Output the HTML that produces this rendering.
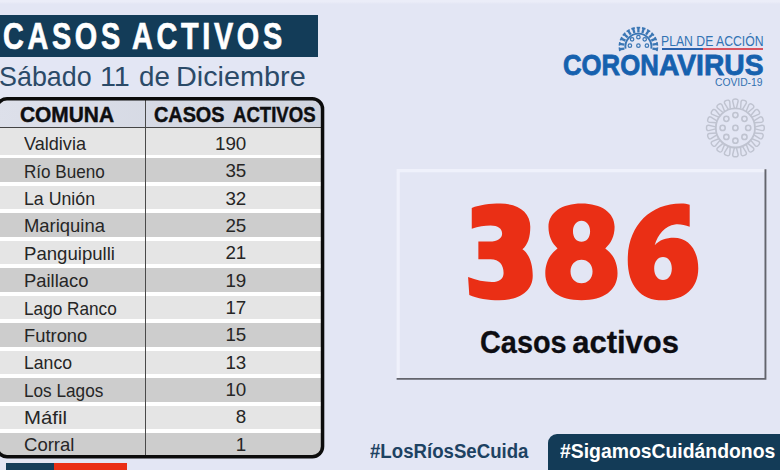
<!DOCTYPE html>
<html>
<head>
<meta charset="utf-8">
<style>
html,body{margin:0;padding:0;}
body{width:780px;height:470px;overflow:hidden;background:#e3e6f4;font-family:"Liberation Sans",sans-serif;position:relative;}
.abs{position:absolute;white-space:nowrap;line-height:1;}
.sx{transform-origin:0 0;}
#banner{left:0;top:15px;width:318.2px;height:42.2px;background:#133c58;}
#title{left:2.5px;top:18.5px;font-size:36px;font-weight:bold;color:#fff;letter-spacing:4.6px;word-spacing:-3px;transform:scaleX(0.8);-webkit-text-stroke:0.7px #fff;}
.sub{top:62.5px;font-size:28px;color:#2b4a68;}
#tblbg{left:-4px;top:98px;width:327px;height:359.5px;border-radius:11px;background:#fff;}
#tblbd{left:0;top:0;}
#clip{left:-4px;top:100px;width:326px;height:356.5px;overflow:hidden;border-radius:0 10px 10px 10px;}
#hdr{left:0;top:0;width:100%;height:27px;background:linear-gradient(90deg,#dde0ea,#cfd3de);}
#hline{left:0;top:27px;width:100%;height:1.3px;background:#444;}
.row{left:0;width:100%;}
.l{background:#e5e5e5;}
.d{background:#cdcdcd;}
#vline{left:148.6px;top:0;width:1.2px;height:100%;background:#4a4a4a;}
.h{font-weight:bold;font-size:22px;color:#0e0e10;-webkit-text-stroke:0.45px #0e0e10;}
.n{font-size:18.2px;color:#262626;}
.v{font-size:18.8px;color:#262626;}
#plan{left:661.2px;top:34px;font-size:14px;color:#3273b3;transform:scaleX(0.873);}
#uline1{left:662px;top:47.8px;width:41px;height:2.1px;background:#2a62ac;}
#uline2{left:703px;top:47.8px;width:60px;height:2.1px;background:#d8525f;}
.corona{top:49.6px;font-size:29.8px;font-weight:bold;color:#1661ae;-webkit-text-stroke:0.8px #1661ae;}
#covid{left:715px;top:77.6px;font-size:10px;color:#2f70b0;transform:scaleX(1.03);}
#box{left:0;top:0;}
.lbl{top:327.2px;font-size:31px;font-weight:bold;color:#0d0d12;-webkit-text-stroke:0.3px #0d0d12;}
#ht1{left:369.5px;top:441.2px;font-size:20px;font-weight:bold;color:#1d4262;transform:scaleX(0.932);}
#htbox{left:547.6px;top:434.2px;width:240px;height:40px;background:#133b57;border-radius:9px 0 0 0;}
#ht2{left:560.3px;top:441px;font-size:20.5px;font-weight:bold;color:#fff;transform:scaleX(0.945);}
#fb{left:5.5px;top:463px;width:48.5px;height:7px;background:#153e5b;}
#fr{left:54px;top:463px;width:73px;height:7px;background:#ea2f15;}
</style>
</head>
<body>
<div class="abs" style="left:0;top:0;width:780px;height:4px;background:linear-gradient(180deg,#ebedf8 0%,#ebedf8 45%,#e3e6f4 100%)"></div>
<div id="banner" class="abs"></div>
<div id="title" class="abs sx m">CASOS ACTIVOS</div>
<div id="sub1" class="abs sx sub m" style="left:-0.9px;transform:scaleX(0.96)">Sábado</div><div id="sub2" class="abs sx sub m" style="left:99.9px;transform:scaleX(1.027)">11</div><div id="sub3" class="abs sx sub m" style="left:138.5px;transform:scaleX(0.99)">de</div><div id="sub4" class="abs sx sub m" style="left:175.95px;transform:scaleX(1.029)">Diciembre</div>

<div id="tblbg" class="abs"></div>
<div id="clip" class="abs">
  <div id="hdr" class="abs"></div>
  <div id="hline" class="abs"></div>
  <div class="abs row l" style="top:28.20px;height:26.6px"></div>
  <div class="abs row d" style="top:58.48px;height:23.2px"></div>
  <div class="abs row l" style="top:85.96px;height:23.2px"></div>
  <div class="abs row d" style="top:113.44px;height:23.2px"></div>
  <div class="abs row l" style="top:140.92px;height:23.2px"></div>
  <div class="abs row d" style="top:168.40px;height:23.2px"></div>
  <div class="abs row l" style="top:195.88px;height:23.2px"></div>
  <div class="abs row d" style="top:223.36px;height:23.2px"></div>
  <div class="abs row l" style="top:250.84px;height:23.2px"></div>
  <div class="abs row d" style="top:278.32px;height:23.2px"></div>
  <div class="abs row l" style="top:305.80px;height:23.2px"></div>
  <div class="abs row d" style="top:333.28px;height:23.2px"></div>
  <div id="vline" class="abs"></div>
</div>
<svg id="tblbd" class="abs" width="780" height="470" viewBox="0 0 780 470"><rect x="-3.25" y="98.85" width="325.8" height="357.9" rx="10.25" ry="10.25" fill="none" stroke="#0c0c0c" stroke-width="3.5"/></svg>
<div id="h1" class="abs sx h m" style="left:20.3px;top:103.8px;transform:scaleX(0.95)">COMUNA</div>
<div id="h2a" class="abs sx h m" style="left:153.7px;top:103.8px;transform:scaleX(0.901)">CASOS</div><div id="h2b" class="abs sx h m" style="left:232.95px;top:103.8px;transform:scaleX(0.845)">ACTIVOS</div>
<div id="n0" class="abs sx n m" style="left:23.71px;top:135.39px;transform:scaleX(0.994)">Valdivia</div>
<div id="v0" class="abs v m" style="right:533.7px;top:134.89px">190</div>
<div id="n1" class="abs sx n m" style="left:23.78px;top:162.75px;transform:scaleX(0.940)">Río Bueno</div>
<div id="v1" class="abs v m" style="right:533.7px;top:162.25px">35</div>
<div id="n2" class="abs sx n m" style="left:23.73px;top:190.11px;transform:scaleX(0.976)">La Unión</div>
<div id="v2" class="abs v m" style="right:533.7px;top:189.61px">32</div>
<div id="n3" class="abs sx n m" style="left:23.68px;top:217.47px;transform:scaleX(1.013)">Mariquina</div>
<div id="v3" class="abs v m" style="right:533.7px;top:216.97px">25</div>
<div id="n4" class="abs sx n m" style="left:23.67px;top:244.83px;transform:scaleX(1.022)">Panguipulli</div>
<div id="v4" class="abs v m" style="right:533.7px;top:244.33px">21</div>
<div id="n5" class="abs sx n m" style="left:23.68px;top:272.19px;transform:scaleX(1.012)">Paillaco</div>
<div id="v5" class="abs v m" style="right:533.7px;top:271.69px">19</div>
<div id="n6" class="abs sx n m" style="left:23.77px;top:299.55px;transform:scaleX(0.946)">Lago Ranco</div>
<div id="v6" class="abs v m" style="right:533.7px;top:299.05px">17</div>
<div id="n7" class="abs sx n m" style="left:23.69px;top:326.91px;transform:scaleX(1.009)">Futrono</div>
<div id="v7" class="abs v m" style="right:533.7px;top:326.41px">15</div>
<div id="n8" class="abs sx n m" style="left:23.74px;top:354.27px;transform:scaleX(0.969)">Lanco</div>
<div id="v8" class="abs v m" style="right:533.7px;top:353.77px">13</div>
<div id="n9" class="abs sx n m" style="left:23.77px;top:381.63px;transform:scaleX(0.945)">Los Lagos</div>
<div id="v9" class="abs v m" style="right:533.7px;top:381.13px">10</div>
<div id="n10" class="abs sx n m" style="left:23.55px;top:408.99px;transform:scaleX(1.118)">Máfil</div>
<div id="v10" class="abs v m" style="right:533.7px;top:408.49px">8</div>
<div id="n11" class="abs sx n m" style="left:23.68px;top:436.35px;transform:scaleX(1.019)">Corral</div>
<div id="v11" class="abs v m" style="right:533.7px;top:435.85px">1</div>

<div id="plan" class="abs sx m">PLAN DE ACCIÓN</div>
<div id="uline1" class="abs"></div><div id="uline2" class="abs"></div>
<div id="cor1" class="abs sx corona m" style="left:563.3px;transform:scaleX(0.863)">CORON</div><div id="cor2" class="abs sx corona m" style="left:658.6px;transform:scaleX(0.947)">AVIRUS</div>
<div id="covid" class="abs sx m">COVID-19</div>
<svg class="abs" id="hv" style="left:0;top:0" width="780" height="470" viewBox="0 0 780 470" fill="none" stroke="#3a76b4" stroke-width="1.5" stroke-linecap="butt">
<path d="M625.56 48.63 A13.0 13.0 0 1 1 651.24 48.63" stroke-width="1.9"/>
<path d="M624.34 48.58 L619.58 49.24" stroke-width="2.3"/>
<path d="M619.84 51.03 L619.33 47.46" stroke-width="1.6"/>
<path d="M624.35 44.54 L619.60 43.85" stroke-width="2.3"/>
<path d="M619.34 45.63 L619.86 42.07" stroke-width="1.6"/>
<path d="M625.50 40.67 L621.13 38.67" stroke-width="2.3"/>
<path d="M620.38 40.31 L621.88 37.03" stroke-width="1.6"/>
<path d="M627.68 37.28 L624.06 34.13" stroke-width="2.3"/>
<path d="M622.88 35.49 L625.24 32.78" stroke-width="1.6"/>
<path d="M630.74 34.65 L628.14 30.61" stroke-width="2.3"/>
<path d="M626.63 31.58 L629.66 29.63" stroke-width="1.6"/>
<path d="M634.41 32.97 L633.06 28.37" stroke-width="2.3"/>
<path d="M631.33 28.87 L634.78 27.86" stroke-width="1.6"/>
<path d="M638.40 32.40 L638.40 27.60" stroke-width="2.3"/>
<path d="M636.60 27.60 L640.20 27.60" stroke-width="1.6"/>
<path d="M642.39 32.97 L643.74 28.37" stroke-width="2.3"/>
<path d="M642.02 27.86 L645.47 28.87" stroke-width="1.6"/>
<path d="M646.06 34.65 L648.66 30.61" stroke-width="2.3"/>
<path d="M647.14 29.63 L650.17 31.58" stroke-width="1.6"/>
<path d="M649.12 37.28 L652.74 34.13" stroke-width="2.3"/>
<path d="M651.56 32.78 L653.92 35.49" stroke-width="1.6"/>
<path d="M651.30 40.67 L655.67 38.67" stroke-width="2.3"/>
<path d="M654.92 37.03 L656.42 40.31" stroke-width="1.6"/>
<path d="M652.45 44.54 L657.20 43.85" stroke-width="2.3"/>
<path d="M656.94 42.07 L657.46 45.63" stroke-width="1.6"/>
<path d="M652.46 48.58 L657.22 49.24" stroke-width="2.3"/>
<path d="M657.47 47.46 L656.96 51.03" stroke-width="1.6"/>
<circle cx="632.1" cy="39.3" r="1.75" stroke-width="1.2"/>
<circle cx="638.4" cy="37.2" r="1.75" stroke-width="1.2"/>
<circle cx="644.7" cy="39.3" r="1.75" stroke-width="1.2"/>
<circle cx="629.9" cy="45.7" r="1.75" stroke-width="1.2"/>
<circle cx="638.4" cy="45.7" r="1.75" stroke-width="1.2"/>
<circle cx="646.9" cy="45.7" r="1.75" stroke-width="1.2"/>
</svg>
<svg class="abs" id="gv" style="left:0;top:0" width="780" height="470" viewBox="0 0 780 470" fill="none" stroke="#bfc3d0" stroke-width="1.6" stroke-linejoin="round">
<circle cx="735.4" cy="127.9" r="19.6" stroke-width="1.8"/>
<path d="M734.40 108.10 L732.70 101.30 C732.50 99.50 733.60 99.00 735.40 99.00 C737.20 99.00 738.30 99.50 738.10 101.30 L736.40 108.10" stroke-width="1.45"/>
<path d="M728.33 109.38 L724.61 103.44 C723.87 101.79 724.76 100.97 726.47 100.41 C728.18 99.86 729.38 99.99 729.75 101.77 L730.23 108.76" stroke-width="1.45"/>
<path d="M722.95 112.47 L717.58 107.97 C716.36 106.63 716.96 105.58 718.41 104.52 C719.87 103.46 721.05 103.22 721.95 104.79 L724.57 111.29" stroke-width="1.45"/>
<path d="M718.79 117.07 L712.29 114.45 C710.72 113.55 710.96 112.37 712.02 110.91 C713.08 109.46 714.13 108.86 715.47 110.08 L719.97 115.45" stroke-width="1.45"/>
<path d="M716.26 122.73 L709.27 122.25 C707.49 121.88 707.36 120.68 707.91 118.97 C708.47 117.26 709.29 116.37 710.94 117.11 L716.88 120.83" stroke-width="1.45"/>
<path d="M715.60 128.90 L708.80 130.60 C707.00 130.80 706.50 129.70 706.50 127.90 C706.50 126.10 707.00 125.00 708.80 125.20 L715.60 126.90" stroke-width="1.45"/>
<path d="M716.88 134.97 L710.94 138.69 C709.29 139.43 708.47 138.54 707.91 136.83 C707.36 135.12 707.49 133.92 709.27 133.55 L716.26 133.07" stroke-width="1.45"/>
<path d="M719.97 140.35 L715.47 145.72 C714.13 146.94 713.08 146.34 712.02 144.89 C710.96 143.43 710.72 142.25 712.29 141.35 L718.79 138.73" stroke-width="1.45"/>
<path d="M724.57 144.51 L721.95 151.01 C721.05 152.58 719.87 152.34 718.41 151.28 C716.96 150.22 716.36 149.17 717.58 147.83 L722.95 143.33" stroke-width="1.45"/>
<path d="M730.23 147.04 L729.75 154.03 C729.38 155.81 728.18 155.94 726.47 155.39 C724.76 154.83 723.87 154.01 724.61 152.36 L728.33 146.42" stroke-width="1.45"/>
<path d="M736.40 147.70 L738.10 154.50 C738.30 156.30 737.20 156.80 735.40 156.80 C733.60 156.80 732.50 156.30 732.70 154.50 L734.40 147.70" stroke-width="1.45"/>
<path d="M742.47 146.42 L746.19 152.36 C746.93 154.01 746.04 154.83 744.33 155.39 C742.62 155.94 741.42 155.81 741.05 154.03 L740.57 147.04" stroke-width="1.45"/>
<path d="M747.85 143.33 L753.22 147.83 C754.44 149.17 753.84 150.22 752.39 151.28 C750.93 152.34 749.75 152.58 748.85 151.01 L746.23 144.51" stroke-width="1.45"/>
<path d="M752.01 138.73 L758.51 141.35 C760.08 142.25 759.84 143.43 758.78 144.89 C757.72 146.34 756.67 146.94 755.33 145.72 L750.83 140.35" stroke-width="1.45"/>
<path d="M754.54 133.07 L761.53 133.55 C763.31 133.92 763.44 135.12 762.89 136.83 C762.33 138.54 761.51 139.43 759.86 138.69 L753.92 134.97" stroke-width="1.45"/>
<path d="M755.20 126.90 L762.00 125.20 C763.80 125.00 764.30 126.10 764.30 127.90 C764.30 129.70 763.80 130.80 762.00 130.60 L755.20 128.90" stroke-width="1.45"/>
<path d="M753.92 120.83 L759.86 117.11 C761.51 116.37 762.33 117.26 762.89 118.97 C763.44 120.68 763.31 121.88 761.53 122.25 L754.54 122.73" stroke-width="1.45"/>
<path d="M750.83 115.45 L755.33 110.08 C756.67 108.86 757.72 109.46 758.78 110.91 C759.84 112.37 760.08 113.55 758.51 114.45 L752.01 117.07" stroke-width="1.45"/>
<path d="M746.23 111.29 L748.85 104.79 C749.75 103.22 750.93 103.46 752.39 104.52 C753.84 105.58 754.44 106.63 753.22 107.97 L747.85 112.47" stroke-width="1.45"/>
<path d="M740.57 108.76 L741.05 101.77 C741.42 99.99 742.62 99.86 744.33 100.41 C746.04 100.97 746.93 101.79 746.19 103.44 L742.47 109.38" stroke-width="1.45"/>
<circle cx="735.4" cy="127.9" r="2.6"/>
<circle cx="735.40" cy="115.10" r="2.6"/>
<circle cx="726.35" cy="118.85" r="2.6"/>
<circle cx="722.60" cy="127.90" r="2.6"/>
<circle cx="726.35" cy="136.95" r="2.6"/>
<circle cx="735.40" cy="140.70" r="2.6"/>
<circle cx="744.45" cy="136.95" r="2.6"/>
<circle cx="748.20" cy="127.90" r="2.6"/>
<circle cx="744.45" cy="118.85" r="2.6"/>
</svg>
<svg id="box" class="abs" width="780" height="470" viewBox="0 0 780 470" fill="none"><path d="M398.2 379 V170.6 H765.5" stroke="#eff1fb" stroke-width="3.2"/><path d="M765.45 169.2 V378.85 H396.6" stroke="#63646c" stroke-width="1.9"/></svg>
<svg id="digits" class="abs" style="left:0;top:0" width="780" height="470" viewBox="0 0 780 470" fill="#ea2f15" fill-rule="evenodd">
<g transform="translate(460,195) scale(0.24490)">
<path d="M48 53 C80 41 122 35 165 35 C240 35 287 72 287 130 C287 172 277 203 255 222 C282 240 297 280 297 330 C297 395 240 430 160 430 C115 430 70 422 38 408 L33 335 C65 348 100 355 130 355 C160 355 178 342 178 318 C178 285 160 262 125 262 L75 262 L75 190 L120 190 C155 190 172 175 172 158 C172 138 155 125 125 125 C100 125 75 130 48 138 Z"/>
</g>
<g transform="translate(535,195) scale(0.24490)">
<path d="M190 35 C270 35 325 72 325 130 C325 170 310 198 287 218 C318 240 337 275 337 320 C337 390 280 430 190 430 C100 430 42 390 42 320 C42 275 62 240 92 218 C70 198 55 170 55 130 C55 72 110 35 190 35 Z M190 105 C170 105 155 122 155 148 C155 174 170 191 190 191 C210 191 225 174 225 148 C225 122 210 105 190 105 Z M190 264 C164 264 145 284 145 312 C145 340 164 360 190 360 C216 360 235 340 235 312 C235 284 216 264 190 264 Z"/>
</g>
<g transform="translate(615,195) scale(0.24490)">
<path d="M305 40 L305 130 C285 122 265 118 245 120 C205 125 175 160 162 205 C180 185 210 175 240 175 C300 175 340 225 340 300 C340 380 285 430 195 430 C105 430 52 370 52 265 C52 130 140 35 270 35 C283 35 295 37 305 40 Z M196 253 C175 253 160 272 160 300 C160 328 175 347 196 347 C217 347 232 328 232 300 C232 272 217 253 196 253 Z"/>
</g>
</svg>
<div id="lbl1" class="abs sx lbl m" style="left:480.1px;transform:scaleX(0.931)">Casos</div><div id="lbl2" class="abs sx lbl m" style="left:572.2px;transform:scaleX(1.0)">activos</div>
<div id="ht1" class="abs sx m">#LosRíosSeCuida</div>
<div id="htbox" class="abs"></div>
<div id="ht2" class="abs sx m">#SigamosCuidándonos</div>
<div id="fb" class="abs"></div><div id="fr" class="abs"></div>
</body>
</html>
